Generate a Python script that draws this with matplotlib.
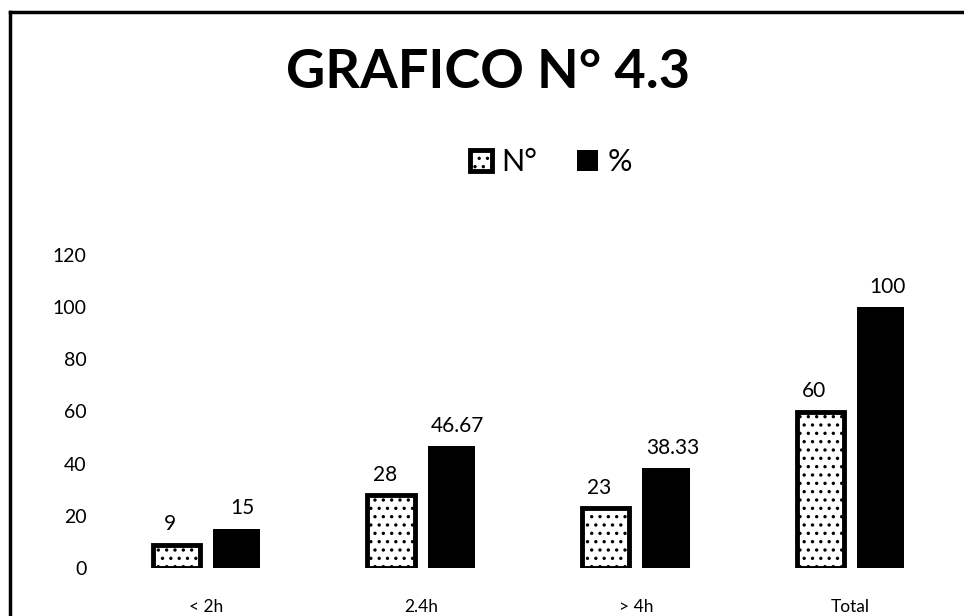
import matplotlib
matplotlib.use("Agg")
import matplotlib.pyplot as plt
import numpy as np

categories = ["< 2h", "2.4h", "> 4h", "Total"]
n_values = [9, 28, 23, 60]
pct_values = [15, 46.67, 38.33, 100]
n_labels = ["9", "28", "23", "60"]
pct_labels = ["15", "46.67", "38.33", "100"]
yticks = [0, 20, 40, 60, 80, 100, 120]

plt.rcParams['font.family'] = ['Lato', 'DejaVu Sans']
plt.rcParams['hatch.linewidth'] = 1.2

W, H = 964, 616
fig = plt.figure(figsize=(W / 100, H / 100), dpi=100)

# outer frame (left and top edges visible in scan)
fig.add_artist(plt.Line2D([10 / W, 10 / W], [0, 1 - 12 / H], color='black', lw=2.5,
                          transform=fig.transFigure))
fig.add_artist(plt.Line2D([10 / W, 1], [1 - 12 / H, 1 - 12 / H], color='black', lw=2.5,
                          transform=fig.transFigure))

ax = fig.add_axes([99 / W, (H - 568) / H, 859 / W, 313 / H])
x = np.arange(len(categories))
bw = 0.22
off = 0.14

bars_n = ax.bar(x - off, n_values, bw, facecolor='white', edgecolor='black',
                linewidth=3.5, hatch='..', label='N°')
bars_p = ax.bar(x + off, pct_values, bw, color='black', label='%')

for b, lab in zip(bars_n, n_labels):
    ax.text(b.get_x() + b.get_width() / 2 - 0.03, b.get_height() + 4, lab,
            ha='center', va='bottom', fontsize=15)
for b, lab in zip(bars_p, pct_labels):
    ax.text(b.get_x() + b.get_width() / 2 + 0.03, b.get_height() + 4, lab,
            ha='center', va='bottom', fontsize=15)

ax.set_xlim(-0.5, 3.5)
ax.set_ylim(0, 120)
ax.set_yticks(yticks)
ax.set_yticklabels([str(v) for v in yticks], fontsize=14)
ax.set_xticks(x)
ax.set_xticklabels(categories, fontsize=12.5)
ax.tick_params(axis='both', length=0)
ax.tick_params(axis='x', pad=22)
ax.tick_params(axis='y', pad=9)
for s in ax.spines.values():
    s.set_visible(False)

fig.text(488 / W, 1 - 72 / H, "GRAFICO N° 4.3", ha='center', va='center',
         fontsize=39, fontweight='bold')

fig.legend(handles=[bars_n, bars_p], labels=['N°', '%'], loc='center',
           bbox_to_anchor=(551 / W, 1 - 162 / H), ncol=2, frameon=False,
           fontsize=22, handlelength=0.7, handleheight=0.7, columnspacing=1.3,
           handletextpad=0.3)

fig.savefig("out.png", dpi=100)
